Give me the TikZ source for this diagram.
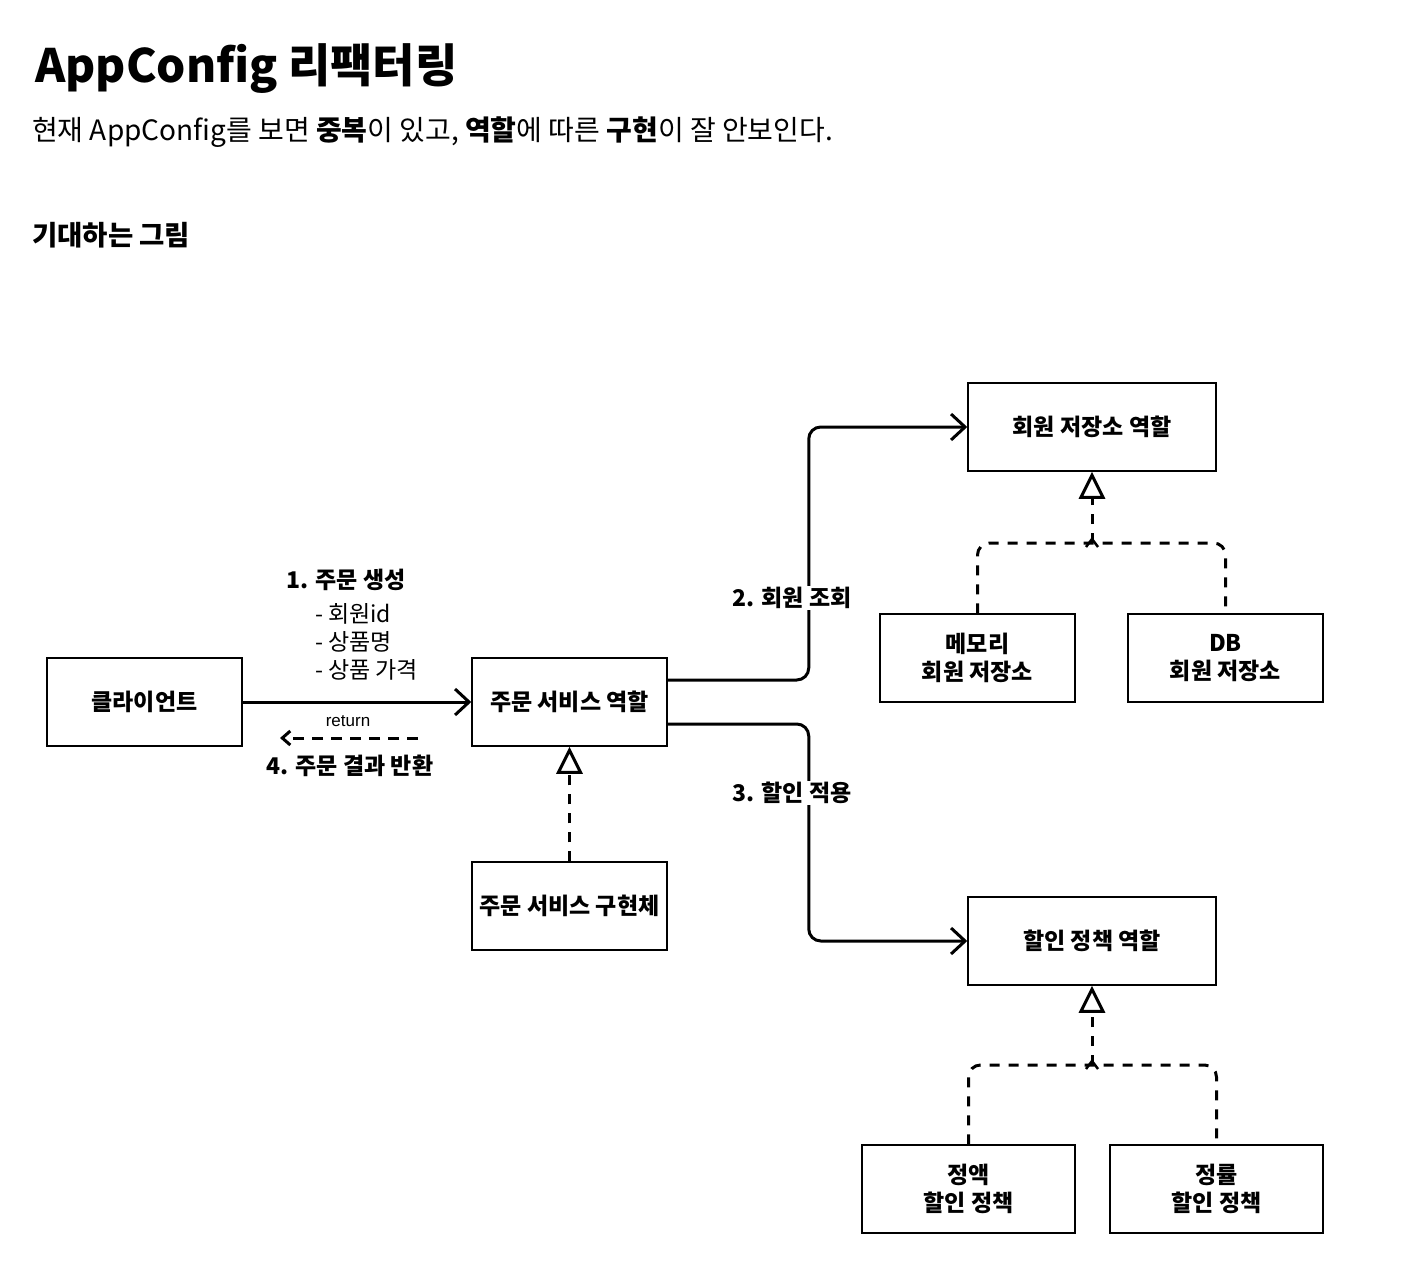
\documentclass[tikz,border=0pt]{standalone}
\usepackage{fontspec}
\setmainfont{Noto Sans CJK KR}
\newfontfamily\latinsans{Liberation Sans}
\usetikzlibrary{arrows.meta}
\begin{document}
\begin{tikzpicture}[x=1pt,y=-1pt,
  box/.style={draw,line width=1.5pt,minimum width=195pt,minimum height=88pt,inner sep=0pt,
    font=\fontsize{23}{28}\selectfont\bfseries,align=center},
  flow/.style={line width=3pt,rounded corners=12pt,
    -{Straight Barb[length=14pt,width=26pt,line width=3pt]}},
  impl/.style={line width=3pt,dash pattern=on 10pt off 9pt,rounded corners=12pt},
  realize/.style={impl,-{Triangle[open,length=27pt,width=26pt,line width=3pt]}},
  lbl/.style={font=\fontsize{23}{26}\selectfont\bfseries,inner sep=1pt},
]
\useasboundingbox[fill=white] (0,0) rectangle (1401,1281);

% headings
\node[anchor=base west,inner sep=0pt,font=\fontsize{46}{52}\selectfont\bfseries] (title) at (35,83) {AppConfig 리팩터링};
\node[anchor=base west,inner sep=0pt,font=\fontsize{28}{32}\selectfont] (sub) at (32,141)
  {현재 AppConfig를 보면 \textbf{중복}이 있고, \textbf{역할}에 따른 \textbf{구현}이 잘 안보인다.};
\node[anchor=base west,inner sep=0pt,font=\fontsize{27.5}{30}\selectfont\bfseries] (h2) at (32,246) {기대하는 그림};

% boxes
\node[box] (client) at (144.5,702) {클라이언트};
\node[box] (osr) at (569.5,702) {주문 서비스 역할};
\node[box] (osi) at (569.5,906) {주문 서비스 구현체};
\node[box,minimum width=248pt] (mrr) at (1092,427) {회원 저장소 역할};
\node[box] (mem) at (977.5,658) {메모리\\회원 저장소};
\node[box] (db) at (1225.5,658) {DB\\회원 저장소};
\node[box,minimum width=248pt] (dpr) at (1092,941) {할인 정책 역할};
\node[box,minimum width=213pt] (fix) at (968.5,1189) {정액\\할인 정책};
\node[box,minimum width=213pt] (rate) at (1216.5,1189) {정률\\할인 정책};

% client -> order service
\draw[flow] (client) -- (osr);
\coordinate (rs) at (418,738);
\coordinate (re) at (280,738);
\draw[line width=3pt,dash pattern=on 11pt off 8pt,
  -{Straight Barb[length=8pt,width=14pt,line width=3pt]}] (rs) -- (re);

\node[lbl] (l1) at (346,580) {1. 주문 생성};
\node[anchor=west,align=left,inner sep=0pt,font=\fontsize{23}{28}\selectfont] (l1list) at (315,642)
  {- 회원id\\- 상품명\\- 상품 가격};
\node[inner sep=0pt,font=\latinsans\fontsize{17}{20}\selectfont] (lret) at (348,721) {return};
\node[lbl] (l4) at (350,766) {4. 주문 결과 반환};

% order service -> roles
\draw[flow] ([yshift=22pt]osr.east) -- ++(141,0) |- (mrr.west);
\draw[flow] ([yshift=-22pt]osr.east) -- ++(141,0) |- (dpr.west);
\node[lbl,fill=white] (l2) at (792,598) {2. 회원 조회};
\node[lbl,fill=white] (l3) at (792,793) {3. 할인 적용};

% realizations
\draw[realize] (osi) -- (osr);

\coordinate (mj) at (1092,543);
\draw[impl] (mem.north) |- (mj) -| (db.north);
\draw[realize] (mj) -- (mrr.south);
\draw[line width=2.5pt] (1086,547) -- (1092,539) -- (1098,547);

\coordinate (dj) at (1092,1065);
\draw[impl] (fix.north) |- (dj) -| (rate.north);
\draw[realize] (dj) -- (dpr.south);
\draw[line width=2.5pt] (1086,1069) -- (1092,1061) -- (1098,1069);
\end{tikzpicture}
\end{document}
